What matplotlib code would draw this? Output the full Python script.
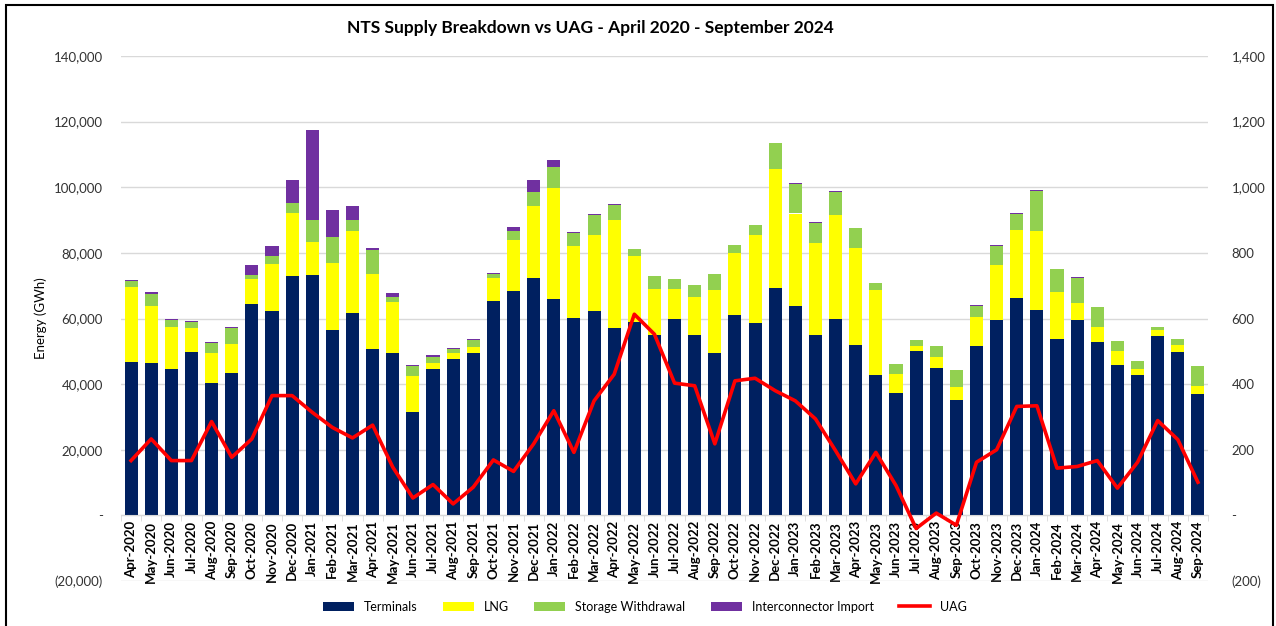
import matplotlib
matplotlib.use('Agg')
import matplotlib.pyplot as plt
import numpy as np
from matplotlib.ticker import FuncFormatter, FixedLocator
from matplotlib.patches import Rectangle

plt.rcParams['font.family'] = ['Lato', 'DejaVu Sans']

months = ['Apr-2020', 'May-2020', 'Jun-2020', 'Jul-2020', 'Aug-2020', 'Sep-2020',
          'Oct-2020', 'Nov-2020', 'Dec-2020', 'Jan-2021', 'Feb-2021', 'Mar-2021',
          'Apr-2021', 'May-2021', 'Jun-2021', 'Jul-2021', 'Aug-2021', 'Sep-2021',
          'Oct-2021', 'Nov-2021', 'Dec-2021', 'Jan-2022', 'Feb-2022', 'Mar-2022',
          'Apr-2022', 'May-2022', 'Jun-2022', 'Jul-2022', 'Aug-2022', 'Sep-2022',
          'Oct-2022', 'Nov-2022', 'Dec-2022', 'Jan-2023', 'Feb-2023', 'Mar-2023',
          'Apr-2023', 'May-2023', 'Jun-2023', 'Jul-2023', 'Aug-2023', 'Sep-2023',
          'Oct-2023', 'Nov-2023', 'Dec-2023', 'Jan-2024', 'Feb-2024', 'Mar-2024',
          'Apr-2024', 'May-2024', 'Jun-2024', 'Jul-2024', 'Aug-2024', 'Sep-2024']

# GWh
terminals = [46600, 46400, 44600, 49900, 40400, 43500, 64500, 62400, 73000, 73400,
             56500, 61600, 50800, 49400, 31600, 44600, 47700, 49400, 65200, 68500,
             72400, 65900, 60100, 62200, 57000, 58900, 55100, 60000, 55100, 49600,
             61200, 58600, 69300, 63900, 54900, 59800, 51900, 42900, 37300, 50000,
             45000, 35300, 51600, 59400, 66300, 62700, 53900, 59500, 52700, 45800,
             42700, 54600, 49900, 37100]
lng = [23000, 17300, 12700, 7100, 9100, 8700, 7400, 14200, 19100, 9800,
       20500, 25100, 22900, 15600, 11000, 1800, 1900, 2000, 7000, 15300,
       22000, 33900, 22100, 23300, 33000, 20100, 13900, 9000, 11400, 19200,
       18700, 26700, 36400, 28100, 28200, 31800, 29600, 25700, 5700, 1700,
       3200, 3700, 8900, 16800, 20700, 23900, 14200, 5200, 4700, 4400,
       2000, 1800, 2000, 2200]
storage = [1800, 3850, 2300, 1900, 3000, 5000, 1300, 2500, 3000, 6900,
           7900, 3200, 7100, 1700, 2900, 2000, 1000, 2200, 1500, 3000,
           4100, 6500, 3900, 6000, 4700, 2200, 3900, 2900, 3600, 4800,
           2500, 3100, 7700, 9000, 6000, 6900, 6200, 2300, 3100, 1700,
           3300, 5300, 3400, 5800, 4700, 12300, 6900, 7500, 6000, 2800,
           2500, 1100, 1800, 6300]
interconnector = [300, 400, 200, 300, 400, 300, 3100, 3100, 7000, 27400,
                  8300, 4400, 600, 1000, 300, 400, 300, 300, 300, 1200,
                  3800, 2100, 300, 200, 100, 0, 0, 0, 0, 0,
                  0, 0, 200, 400, 400, 300, 0, 0, 0, 0,
                  0, 0, 200, 300, 300, 200, 200, 600, 200, 0,
                  0, 0, 0, 0]
uag = [167, 233, 167, 167, 286, 177, 233, 365, 365, 314,
       268, 236, 275, 147, 53, 94, 35, 86, 169, 134,
       218, 319, 192, 349, 430, 613, 552, 403, 395, 218,
       410, 418, 380, 349, 294, 197, 96, 192, 91, -40,
       7, -30, 162, 200, 332, 334, 144, 149, 167, 83,
       162, 289, 231, 101]

x = np.arange(len(months))
terminals = np.array(terminals)
lng = np.array(lng)
storage = np.array(storage)
interconnector = np.array(interconnector)

fig = plt.figure(figsize=(12.76, 6.26), dpi=100)
ax = fig.add_axes([121 / 1276, 1 - 581 / 626, (1208 - 121) / 1276, (581 - 56) / 626])

w = 0.65
ax.bar(x, terminals, w, color='#002060', label='Terminals', zorder=2)
ax.bar(x, lng, w, bottom=terminals, color='#FFFF00', label='LNG', zorder=2)
ax.bar(x, storage, w, bottom=terminals + lng, color='#92D050',
       label='Storage Withdrawal', zorder=2)
ax.bar(x, interconnector, w, bottom=terminals + lng + storage, color='#7030A0',
       label='Interconnector Import', zorder=2)

ax.set_xlim(-0.5, len(months) - 0.5)
ax.set_ylim(-20000, 140000)
ax.set_yticks(np.arange(-20000, 140001, 20000))


def left_fmt(v, pos):
    if v == 0:
        return '-'
    if v < 0:
        return '({:,.0f})'.format(-v)
    return '{:,.0f}'.format(v)


ax.yaxis.set_major_formatter(FuncFormatter(left_fmt))
ax.grid(axis='y', color='#D9D9D9', lw=1, zorder=0)
for s in ['top', 'right', 'left']:
    ax.spines[s].set_visible(False)
ax.spines['bottom'].set_position(('data', 0))
ax.spines['bottom'].set_color('#D9D9D9')
ax.tick_params(axis='y', length=0, pad=13, labelsize=9.5, labelcolor='#333333')
ax.set_xticks(x)
ax.set_xticklabels(months, rotation=90, fontsize=9.5, fontweight='bold')
ax.tick_params(axis='x', length=0, pad=4)
ax.xaxis.set_minor_locator(FixedLocator(np.arange(-0.5, len(months), 1)))
ax.tick_params(axis='x', which='minor', length=4, color='#D9D9D9')
ax.set_ylabel('Energy (GWh)', fontsize=9.5, labelpad=5)

ax2 = ax.twinx()
ax2.plot(x, uag, color='#FF0000', lw=2.6, label='UAG', zorder=3)
ax2.set_ylim(-200, 1400)
ax2.set_yticks(np.arange(-200, 1401, 200))
ax2.yaxis.set_major_formatter(FuncFormatter(left_fmt))
ax2.tick_params(axis='y', length=0, pad=17, labelsize=9.5, labelcolor='#333333')
for s in ax2.spines.values():
    s.set_visible(False)

fig.text(590 / 1276, 1 - 28 / 626, 'NTS Supply Breakdown vs UAG - April 2020 - September 2024',
         ha='center', va='center', fontsize=12.5, fontweight='bold')

h1, l1 = ax.get_legend_handles_labels()
h2, l2 = ax2.get_legend_handles_labels()
fig.legend(h1 + h2, l1 + l2, loc='center', bbox_to_anchor=(645 / 1276, 1 - 607 / 626),
           ncol=5, frameon=False, fontsize=9, columnspacing=2.0,
           handlelength=2.5, handleheight=0.8)

fig.add_artist(Rectangle((6 / 1276, -0.05), (1273 - 6) / 1276, 1 - 5 / 626 + 0.05,
                         transform=fig.transFigure, fill=False, ec='black', lw=1.5))

fig.savefig('out.png', dpi=100)
